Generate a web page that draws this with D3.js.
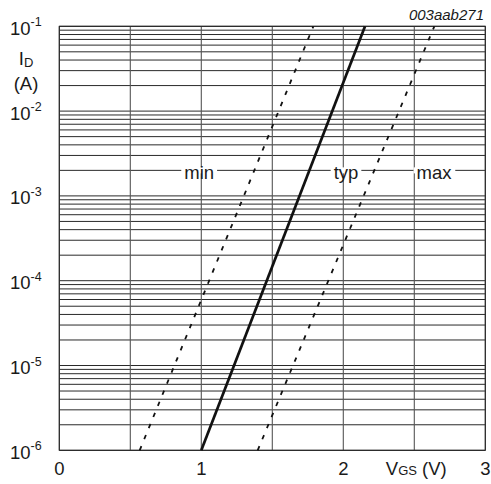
<!DOCTYPE html>
<html>
<head>
<meta charset="utf-8">
<script src="https://cdn.jsdelivr.net/npm/d3@7"></script>
<style>
  html, body { margin: 0; padding: 0; background: #fff; }
  svg { display: block; }
  text { font-family: "Liberation Sans", Arial, Helvetica, sans-serif; fill: #1a1a1a; }
</style>
</head>
<body>
<svg id="chart" width="491" height="484"></svg>
<script>
// ---- data ----
const xTickValues = [0, 1, 2, 3];
const xTickLabels = ["0", "1", "2", "3"];
const xGridValues = [0, 0.5, 1, 1.5, 2, 2.5, 3];
const yTickValues = [1e-6, 1e-5, 1e-4, 1e-3, 1e-2, 1e-1];
const yTickExponents = ["-6", "-5", "-4", "-3", "-2", "-1"];

// curves: V_GS (V) vs I_D (A), straight lines on log scale
const minVgs = [0.566, 1.789];
const minId  = [1e-6, 1e-1];
const typVgs = [1.0, 2.153];
const typId  = [1e-6, 1e-1];
const maxVgs = [1.397, 2.641];
const maxId  = [1e-6, 1e-1];

const curveNames = ["min", "typ", "max"];
const labelVgs = [0.985, 2.019, 2.639];
const labelId = 2e-3;
const figureCode = "003aab271";

// ---- layout ----
const svg = d3.select("#chart");
const pLeft = 59.3, pRight = 485.3, pTop = 26.3, pBottom = 450.3;
const x = d3.scaleLinear().domain([0, 3]).range([pLeft, pRight]);
const y = d3.scaleLog().domain([1e-6, 1e-1]).range([pBottom, pTop]);
const FS = 18.5;

// horizontal grid (1..9 per decade)
const hGrid = y.ticks().filter(v => v >= 1e-6 * 0.999 && v <= 1e-1 * 1.001);
svg.append("g").selectAll("line").data(hGrid).join("line")
  .attr("x1", pLeft).attr("x2", pRight)
  .attr("y1", d => y(d)).attr("y2", d => y(d))
  .attr("stroke", "#2a2a2a").attr("stroke-width", 1);

// vertical grid
svg.append("g").selectAll("line").data(xGridValues).join("line")
  .attr("x1", d => x(d)).attr("x2", d => x(d))
  .attr("y1", pTop).attr("y2", pBottom)
  .attr("stroke", "#555").attr("stroke-width", 1.1);

// frame
svg.append("rect").attr("x", pLeft).attr("y", pTop)
  .attr("width", pRight - pLeft).attr("height", pBottom - pTop)
  .attr("fill", "none").attr("stroke", "#222").attr("stroke-width", 1);

// curves
const line = d3.line().x(d => x(d[0])).y(d => y(d[1]));
const series = [
  {v: minVgs, i: minId, dash: "4.5,7.5", w: 1.8},
  {v: typVgs, i: typId, dash: null, w: 2.7},
  {v: maxVgs, i: maxId, dash: "4.5,7.5", w: 1.8}
];
series.forEach(s => {
  const pts = s.v.map((v, k) => [v, s.i[k]]);
  svg.append("path").attr("d", line(pts))
    .attr("fill", "none").attr("stroke", "#111")
    .attr("stroke-width", s.w)
    .attr("stroke-dasharray", s.dash);
});

// curve labels with white background
curveNames.forEach((name, k) => {
  const g = svg.append("g");
  const t = g.append("text")
    .attr("x", x(labelVgs[k])).attr("y", y(labelId) + 8.5)
    .attr("text-anchor", "middle").attr("font-size", FS).text(name);
  const bb = t.node().getBBox();
  g.insert("rect", "text")
    .attr("x", bb.x - 3).attr("y", y(labelId) - 3)
    .attr("width", bb.width + 6).attr("height", 6)
    .attr("fill", "#fff");
});

// y tick labels
yTickValues.forEach((v, k) => {
  const t = svg.append("text")
    .attr("x", 10).attr("y", y(v) + 8.5)
    .attr("font-size", FS);
  t.append("tspan").text("10");
  t.append("tspan").attr("font-size", 12.5).attr("dy", -8.5).text(yTickExponents[k]);
});

// x tick labels
xTickValues.forEach((v, k) => {
  svg.append("text")
    .attr("x", x(v)).attr("y", 475)
    .attr("text-anchor", "middle").attr("font-size", FS)
    .text(xTickLabels[k]);
});

// x axis title: V_GS (V)
const xt = svg.append("text").attr("x", x(2.5) + 2).attr("y", 475)
  .attr("text-anchor", "middle").attr("font-size", FS);
xt.append("tspan").text("V");
xt.append("tspan").attr("font-size", 13).text("GS");
xt.append("tspan").text(" (V)");

// y axis title: I_D (A)
const yt = svg.append("text").attr("x", 26).attr("y", 65)
  .attr("text-anchor", "middle").attr("font-size", FS);
yt.append("tspan").text("I");
yt.append("tspan").attr("font-size", 13).attr("dy", 1.5).text("D");
svg.append("text").attr("x", 26).attr("y", 89.5)
  .attr("text-anchor", "middle").attr("font-size", FS).text("(A)");

// figure code
svg.append("text").attr("x", 484).attr("y", 20)
  .attr("text-anchor", "end").attr("font-size", 15)
  .attr("font-style", "italic").text(figureCode);
</script>
</body>
</html>
